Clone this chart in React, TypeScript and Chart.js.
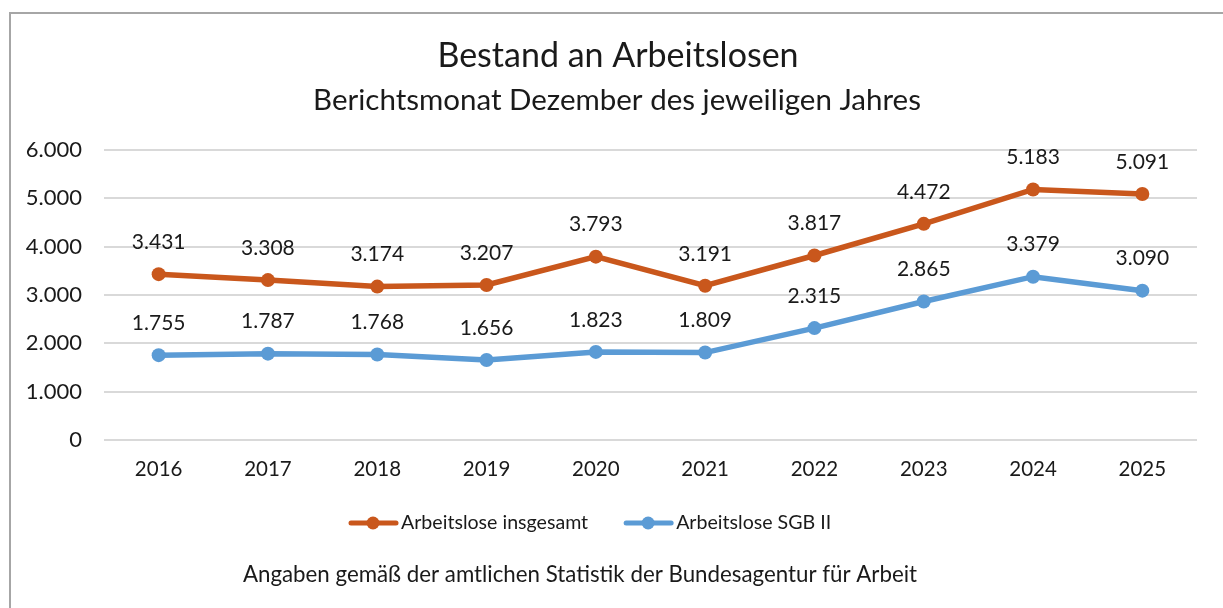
import React, { useEffect, useRef } from "react";
import { Chart, registerables } from "chart.js";

Chart.register(...registerables);

const years = ["2016", "2017", "2018", "2019", "2020", "2021", "2022", "2023", "2024", "2025"];
const insgesamt = [3431, 3308, 3174, 3207, 3793, 3191, 3817, 4472, 5183, 5091];
const sgb2 = [1755, 1787, 1768, 1656, 1823, 1809, 2315, 2865, 3379, 3090];
const seriesNames = ["Arbeitslose insgesamt", "Arbeitslose SGB II"];
const seriesColors = ["#C9571C", "#5B9BD5"];
const titleText = "Bestand an Arbeitslosen";
const subtitleText = "Berichtsmonat Dezember des jeweiligen Jahres";
const footerText = "Angaben gemäß der amtlichen Statistik der Bundesagentur für Arbeit";

const FONT = "Lato, 'Open Sans', sans-serif";
const TEXT = "#1a1a1a";

function fmt(v: number): string {
  const s = Math.round(v).toString();
  return s.replace(/\B(?=(\d{3})+(?!\d))/g, ".");
}

const decorPlugin = {
  id: "decor",
  beforeDraw(chart: any) {
    const ctx = chart.ctx;
    ctx.save();
    ctx.fillStyle = "#fff";
    ctx.fillRect(0, 0, chart.width, chart.height);
    ctx.strokeStyle = "#A6A6A6";
    ctx.lineWidth = 2;
    ctx.beginPath();
    ctx.moveTo(10, chart.height + 5);
    ctx.lineTo(10, 13);
    ctx.lineTo(chart.width + 5, 13);
    ctx.stroke();
    ctx.restore();
  },
  afterDraw(chart: any) {
    const ctx = chart.ctx;
    ctx.save();
    ctx.fillStyle = TEXT;
    ctx.textAlign = "center";
    ctx.textBaseline = "middle";
    ctx.font = `34px ${FONT}`;
    ctx.fillText(titleText, 618, 56);
    ctx.font = `29.5px ${FONT}`;
    ctx.fillText(subtitleText, 617, 100);

    // data labels
    ctx.font = `21px ${FONT}`;
    chart.data.datasets.forEach((ds: any, i: number) => {
      const meta = chart.getDatasetMeta(i);
      meta.data.forEach((pt: any, j: number) => {
        ctx.fillText(fmt(ds.data[j]), pt.x, pt.y - 32);
      });
    });

    // legend
    ctx.font = `19.6px ${FONT}`;
    const ly = 523;
    let x = 349;
    chart.data.datasets.forEach((ds: any, i: number) => {
      ctx.strokeStyle = ds.borderColor;
      ctx.lineWidth = 5;
      ctx.lineCap = "round";
      ctx.beginPath();
      ctx.moveTo(x + 2, ly);
      ctx.lineTo(x + 47, ly);
      ctx.stroke();
      ctx.fillStyle = ds.borderColor;
      ctx.beginPath();
      ctx.arc(x + 24, ly, 6.5, 0, Math.PI * 2);
      ctx.fill();
      ctx.fillStyle = TEXT;
      ctx.textAlign = "left";
      ctx.fillText(ds.label, x + 52, ly);
      const w = ctx.measureText(ds.label).width;
      x = x + 52 + w + 36;
    });

    ctx.textAlign = "center";
    ctx.font = `22.3px ${FONT}`;
    ctx.fillText(footerText, 580, 575);
    ctx.restore();
  },
};

export default function App() {
  const ref = useRef<HTMLCanvasElement | null>(null);
  useEffect(() => {
    if (!ref.current) return;
    const chart = new Chart(ref.current, {
      type: "line",
      data: {
        labels: years,
        datasets: [
          {
            label: seriesNames[0],
            data: insgesamt,
            borderColor: seriesColors[0],
            backgroundColor: seriesColors[0],
            borderWidth: 5.5,
            pointRadius: 7,
            pointHoverRadius: 7,
            pointBorderWidth: 0,
            tension: 0,
          },
          {
            label: seriesNames[1],
            data: sgb2,
            borderColor: seriesColors[1],
            backgroundColor: seriesColors[1],
            borderWidth: 5.5,
            pointRadius: 7,
            pointHoverRadius: 7,
            pointBorderWidth: 0,
            tension: 0,
          },
        ],
      },
      options: {
        responsive: false,
        animation: false,
        layout: { padding: { top: 150, left: 0, right: 26, bottom: 118 } },
        plugins: {
          legend: { display: false },
          title: { display: false },
          tooltip: { enabled: false },
        },
        scales: {
          x: {
            offset: true,
            grid: { display: false, drawTicks: false },
            border: { display: false },
            ticks: { color: TEXT, font: { family: FONT, size: 20.5 }, padding: 17, maxRotation: 0 },
            afterFit(scale: any) {
              scale.height = 50;
            },
          },
          y: {
            min: 0,
            max: 6000,
            grid: { color: "#D9D9D9", lineWidth: 2, drawTicks: false },
            border: { display: false },
            ticks: {
              stepSize: 1000,
              color: TEXT,
              font: { family: FONT, size: 22 },
              padding: 22,
              callback: (v: any) => fmt(Number(v)),
            },
            afterFit(scale: any) {
              scale.width = 104;
            },
          },
        },
      },
      plugins: [decorPlugin],
    });
    return () => chart.destroy();
  }, []);
  return (
    <div style={{ position: "fixed", left: 0, top: 0, width: 1223, height: 608, background: "#fff" }}>
      <canvas ref={ref} width={1223} height={608} style={{ width: 1223, height: 608, display: "block" }} />
    </div>
  );
}
